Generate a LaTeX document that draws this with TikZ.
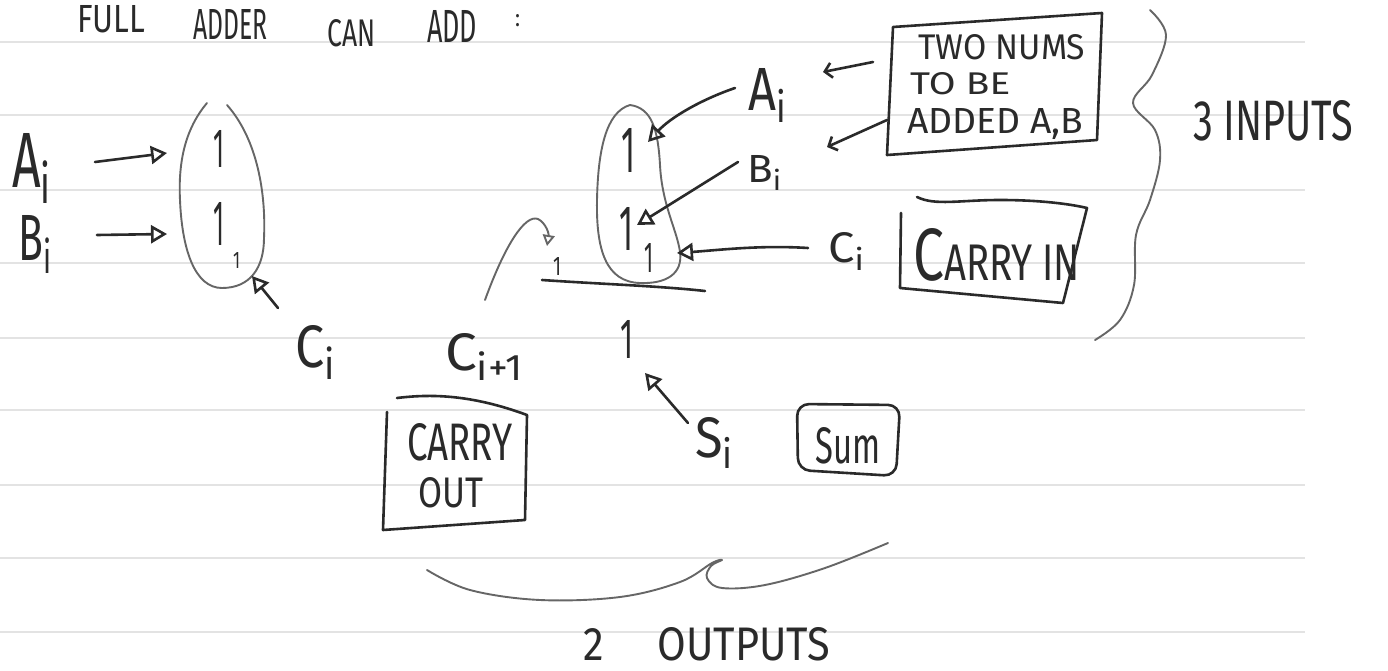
\documentclass[tikz,border=0pt]{standalone}
\usepackage{fontspec}
\setmainfont{Fira Sans}
\usepackage{graphicx}
\usetikzlibrary{arrows.meta}
\newcommand{\hw}[3]{\resizebox{#1pt}{#2pt}{#3}}
\definecolor{ink}{HTML}{2A2A2A}
\definecolor{softink}{HTML}{666666}
\definecolor{rulecol}{HTML}{E3E3E3}
\begin{document}
\begin{tikzpicture}[x=1pt,y=-1pt,
  pen/.style={draw=ink,line width=2.6pt,line cap=round,line join=round},
  softpen/.style={draw=softink,line width=1.9pt,line cap=round,line join=round},
  txt/.style={inner sep=0pt,anchor=north west,text=ink},
  otri/.style={-{Triangle[open,length=16pt,width=18pt]}},
  stri/.style={-{Triangle[open,length=11pt,width=12pt]}},
  barb/.style={-{Straight Barb[length=7pt,width=15pt]}},
  ruled/.style={draw=rulecol,line width=1.2pt}]

\fill[white] (0,0) rectangle (1388,671);
\useasboundingbox (0,0) rectangle (1388,671);
\foreach \yy in {42,115,190,263,338,410,485,558,632}
  \draw[ruled] (0,\yy) -- (1305,\yy);

% title
\node[txt,anchor=base west] (title) at (77,40)
  {\raisebox{7pt}{\hw{68}{27}{FULL}}\hspace{48pt}\hw{74}{30}{ADDER}\hspace{60pt}\raisebox{-7pt}{\hw{48}{27}{CAN}}\hspace{52pt}\raisebox{-3pt}{\hw{50}{32}{ADD}}\hspace{38pt}\raisebox{13pt}{\hw{5}{12}{:}}};

% ---------- left diagram ----------
\node[txt] (Al) at (12,133) {\hw{41}{54}{A\textsubscript{i}}};
\node[txt] (Bl) at (18,215) {\hw{35}{45}{B\textsubscript{i}}};
\node[txt] (Cl) at (295,325) {\hw{42}{42}{C\textsubscript{i}}};
\node[txt] (l1) at (213,130) {\hw{11}{37}{1}};
\node[txt] (l2) at (213,202) {\hw{11}{43}{1}};
\node[txt] (l3) at (233,252) {\hw{7}{16}{1}};
\draw[softpen] (207,103) .. controls (186,128) and (178,160) .. (180,200)
  .. controls (182,250) and (195,288) .. (222,288)
  .. controls (250,288) and (264,268) .. (264,238)
  .. controls (266,195) and (258,140) .. (227,105);
\coordinate (tAl) at (95,162);  \coordinate (hAl) at (167,153);
\coordinate (tBl) at (97,235);  \coordinate (hBl) at (167,234);
\coordinate (tCl) at (278,308); \coordinate (hCl) at (252,276);
\draw[pen,otri] (tAl) -- (hAl);
\draw[pen,otri] (tBl) -- (hBl);
\draw[pen,otri] (tCl) -- (hCl);

% ---------- middle diagram ----------
\node[txt] (m1) at (621,128) {\hw{14}{44}{1}};
\node[txt] (m2) at (619,207) {\hw{14}{43}{1}};
\node[txt] (m3) at (644,243) {\hw{9}{29}{1}};
\node[txt] (m4) at (553,257) {\hw{8}{18}{1}};
\node[txt] (m5) at (620,320) {\hw{13}{38}{1}};
\draw[softpen] (630,105) .. controls (606,112) and (598,150) .. (597,200)
  .. controls (596,250) and (606,282) .. (640,283)
  .. controls (666,284) and (683,274) .. (680,252)
  .. controls (677,230) and (662,205) .. (660,165)
  .. controls (658,130) and (652,108) .. (630,105);
\draw[pen] (542,280) .. controls (600,284) and (660,286) .. (705,291);

\node[txt] (Am) at (748,68) {\hw{40}{42}{A\textsubscript{i}}};
\node[txt] (Bm) at (747,155) {\hw{36}{27}{B\textsubscript{i}}};
\node[txt] (Cm) at (828,232) {\hw{38}{30}{C\textsubscript{i}}};
\coordinate (tAm) at (735,88);  \coordinate (hAm) at (648,142);
\coordinate (tBm) at (738,162); \coordinate (hBm) at (637,225);
\coordinate (tCm) at (808,248); \coordinate (hCm) at (677,253);
\draw[pen,otri] (tAm) .. controls (700,100) and (670,118) .. (hAm);
\draw[pen,otri] (tBm) -- (hBm);
\draw[pen,otri] (tCm) .. controls (760,245) and (720,250) .. (hCm);

\coordinate (tCarry) at (485,300); \coordinate (hCarry) at (547,246);
\draw[softpen,stri] (tCarry) .. controls (505,245) and (525,214) .. (538,219)
  .. controls (546,223) and (549,234) .. (hCarry);

% ---------- outputs ----------
\node[txt] (Cout) at (445,333) {\hw{80}{37}{C\textsubscript{i+1}}};
\node[txt] (Si) at (695,417) {\hw{40}{40}{S\textsubscript{i}}};
\coordinate (tS) at (688,423); \coordinate (hS) at (645,373);
\draw[pen,otri] (tS) -- (hS);

\node[txt] (co1) at (407,423) {\hw{105}{37}{CARRY}};
\node[txt] (co2) at (418,477) {\hw{65}{30}{OUT}};
\draw[pen] (397,398) .. controls (430,394) and (470,394) .. (527,415)
  -- (525,520) -- (383,530) -- (387,412);

\node[txt] (sum) at (815,427) {\hw{65}{36}{Sum}};
\draw[pen,rounded corners=12pt] (797,404) -- (900,405) -- (896,476) -- (798,470) -- cycle;

% ---------- right boxes ----------
\node[txt] (tn1) at (918,34) {\hw{167}{25}{TWO NUMS}};
\node[txt] (tn2) at (910,72) {\hw{100}{22}{TO BE}};
\node[txt] (tn3) at (907,108) {\hw{176}{25}{ADDED A,B}};
\draw[pen] (893,27) -- (1102,13) -- (1097,140) -- (887,155) -- cycle;
\coordinate (tX1) at (873,62);  \coordinate (hX1) at (823,72);
\coordinate (tX2) at (887,120); \coordinate (hX2) at (827,147);
\draw[pen,barb] (tX1) -- (hX1);
\draw[pen,barb] (tX2) -- (hX2);

\node[txt] (cin) at (913,228) {\hw{167}{52}{{\Large C}ARRY IN}};
\draw[pen] (917,197) .. controls (935,206) and (960,200) .. (1000,200)
  .. controls (1040,200) and (1070,204) .. (1087,208)
  -- (1063,303) -- (900,288) -- (901,213);

% braces
\draw[softpen] plot[smooth,tension=0.6] coordinates
  {(1150,10) (1166,35) (1152,75) (1133,103) (1155,130) (1160,160) (1150,200) (1136,235) (1134,285) (1120,320) (1095,340)};
\node[txt] (three) at (1193,100) {\hw{160}{40}{3 INPUTS}};

\draw[softpen] plot[smooth,tension=0.6] coordinates
  {(427,570) (470,590) (540,600) (620,597) (680,582) (712,563) (722,560) (711,566) (707,578) (722,588) (765,585) (825,568) (888,543)};
\node[txt] (two) at (583,627) {\hw{247}{33}{2\hspace{1.3em}OUTPUTS}};
\end{tikzpicture}
\end{document}
